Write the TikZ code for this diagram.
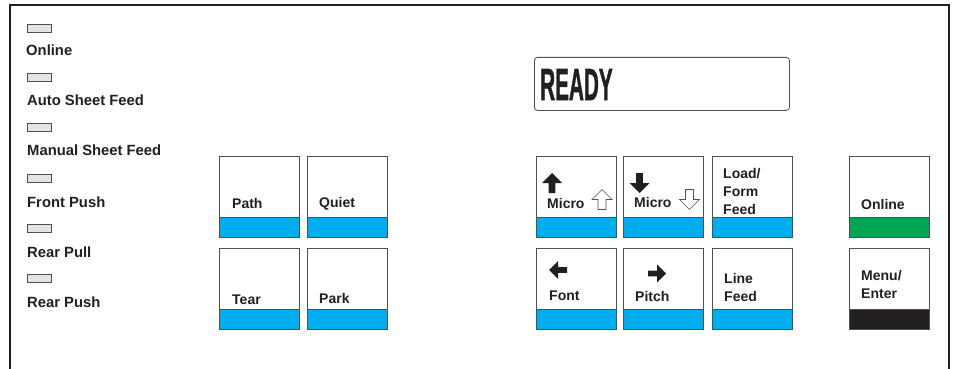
\documentclass[tikz,border=0pt]{standalone}
\usepackage{fontspec}
\setmainfont{Liberation Sans}
\newfontfamily\readyfont{Liberation Sans}[UprightFont=* Bold, FakeBold=1.5]
\usetikzlibrary{positioning}
\definecolor{keyblue}{HTML}{00AEEF}
\definecolor{keygreen}{HTML}{00A651}
\definecolor{keyblack}{HTML}{231F20}
\definecolor{keyline}{HTML}{505050}
\definecolor{ledgray}{HTML}{E4E4E4}
\definecolor{ink}{HTML}{231F20}
\newcommand{\keyfont}{\fontsize{14}{18}\selectfont\bfseries}
\newcommand{\ledfont}{\fontsize{14.8}{17}\selectfont\bfseries}

\tikzset{
  keybody/.style={draw=keyline, line width=0.8pt, fill=white, anchor=north west,
    inner sep=0pt, minimum width=80pt, minimum height=81pt},
  keystrip/.style={draw=keyline, line width=0.8pt, fill=#1, anchor=south west,
    inner sep=0pt, minimum width=80pt, minimum height=20pt},
  keylabel/.style={font=\keyfont, text=ink, anchor=base west, inner sep=0pt, align=left},
  led/.style={draw=keyline, line width=0.6pt, fill=ledgray, inner sep=0pt,
    minimum width=24pt, minimum height=8pt},
  ledlabel/.style={font=\ledfont, text=ink, anchor=base west, inner sep=0pt},
  pics/solidarrow/.style={code={
    \fill[ink] (0,-10) -- (10,0) -- (3.3,0) -- (3.3,10) -- (-3.3,10) -- (-3.3,0) -- (-10,0) -- cycle;}},
  pics/hollowarrow/.style={code={
    \draw[keyline, fill=white, line width=0.6pt]
      (0,-10) -- (10,0) -- (4,0) -- (4,10) -- (-4,10) -- (-4,0) -- (-10,0) -- cycle;}}
}

\begin{document}
\begin{tikzpicture}[x=1pt, y=-1pt]
  \useasboundingbox (0,0) rectangle (955,369);
  % panel frame, open at the bottom
  \draw[line width=2pt, ink] (10,369) -- (10,5) -- (949,5) -- (949,369);

  % status lamps
  \node[led] (ledonline) at (39,28) {};
  \node[ledlabel] (lblonline) at (26,56) {Online};
  \node[led] (ledauto) at (39,77) {};
  \node[ledlabel] (lblauto) at (27,105) {Auto Sheet Feed};
  \node[led] (ledmanual) at (39,127) {};
  \node[ledlabel] (lblmanual) at (27,155) {Manual Sheet Feed};
  \node[led] (ledfront) at (39,178) {};
  \node[ledlabel] (lblfront) at (27,207) {Front Push};
  \node[led] (ledpull) at (39,228) {};
  \node[ledlabel] (lblpull) at (27,257) {Rear Pull};
  \node[led] (ledpush) at (39,278) {};
  \node[ledlabel] (lblpush) at (27,307) {Rear Push};

  % message display
  \node[draw=keyline, line width=0.8pt, rounded corners=3pt, anchor=north west,
        minimum width=255pt, minimum height=53pt, inner sep=0pt] (display) at (534,57) {};
  \node[anchor=base west, inner sep=0pt, text=ink] (ready) at (540,100)
    {\scalebox{0.46}[1]{\fontsize{45}{45}\selectfont\readyfont READY}};

  % left key block
  \node[keybody] (path) at (219,156) {};
  \node[keystrip=keyblue] (pathstrip) at (path.south west) {};
  \node[keylabel] (pathtxt) at (232,208) {Path};
  \node[keybody] (quiet) at (307,156) {};
  \node[keystrip=keyblue] (quietstrip) at (quiet.south west) {};
  \node[keylabel] (quiettxt) at (319,207) {Quiet};
  \node[keybody] (tear) at (219,248) {};
  \node[keystrip=keyblue] (tearstrip) at (tear.south west) {};
  \node[keylabel] (teartxt) at (232,304) {Tear};
  \node[keybody] (park) at (307,248) {};
  \node[keystrip=keyblue] (parkstrip) at (park.south west) {};
  \node[keylabel] (parktxt) at (319,303) {Park};

  % middle key block
  \node[keybody] (microup) at (536,156) {};
  \node[keystrip=keyblue] (microupstrip) at (microup.south west) {};
  \node[keylabel] (microuptxt) at (547,208) {Micro};
  \pic at (552,183) {solidarrow};
  \pic at (602,199.5) {hollowarrow};
  \node[keybody] (microdown) at (623,156) {};
  \node[keystrip=keyblue] (microdownstrip) at (microdown.south west) {};
  \node[keylabel] (microdowntxt) at (634,207) {Micro};
  \pic[rotate=180] at (639.5,183) {solidarrow};
  \pic[rotate=180] at (689.5,199.5) {hollowarrow};
  \node[keybody] (load) at (712,156) {};
  \node[keystrip=keyblue] (loadstrip) at (load.south west) {};
  \node[keylabel] (loadtxt) at (723,214) {Load/\\Form\\Feed};
  \node[keybody] (font) at (536,248) {};
  \node[keystrip=keyblue] (fontstrip) at (font.south west) {};
  \node[keylabel] (fonttxt) at (549,300) {Font};
  \pic[rotate=90, scale=0.9] at (558,270) {solidarrow};
  \node[keybody] (pitch) at (623,248) {};
  \node[keystrip=keyblue] (pitchstrip) at (pitch.south west) {};
  \node[keylabel] (pitchtxt) at (635,301) {Pitch};
  \pic[rotate=-90, scale=0.9] at (657,273.5) {solidarrow};
  \node[keybody] (linefeed) at (712,248) {};
  \node[keystrip=keyblue] (linefeedstrip) at (linefeed.south west) {};
  \node[keylabel] (linefeedtxt) at (724,301) {Line\\Feed};

  % right key block
  \node[keybody] (online) at (849,156) {};
  \node[keystrip=keygreen] (onlinestrip) at (online.south west) {};
  \node[keylabel] (onlinetxt) at (861,209) {Online};
  \node[keybody] (menu) at (849,248) {};
  \node[keystrip=keyblack] (menustrip) at (menu.south west) {};
  \node[keylabel] (menutxt) at (861,298) {Menu/\\Enter};
\end{tikzpicture}
\end{document}
